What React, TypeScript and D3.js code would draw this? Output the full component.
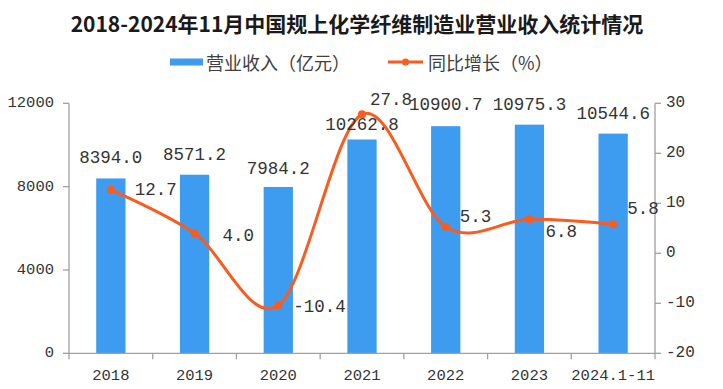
import React from "react";
import * as d3 from "d3";

const categories = ["2018", "2019", "2020", "2021", "2022", "2023", "2024.1-11"];
const revenue = [8394.0, 8571.2, 7984.2, 10262.8, 10900.7, 10975.3, 10544.6];
const growth = [12.7, 4.0, -10.4, 27.8, 5.3, 6.8, 5.8];
const leftTicks = [0, 4000, 8000, 12000];
const rightTicks = [-20, -10, 0, 10, 20, 30];
const titleText = "2018-2024年11月中国规上化学纤维制造业营业收入统计情况";
const legendBar = "营业收入（亿元）";
const legendLine = "同比增长（%）";

// label placement tweaks (styling, not data)
const growthLabelOffset: [number, number][] = [
  [24, 0.5],
  [28, 3],
  [15, 2],
  [8, -14],
  [14, -10],
  [16, 13],
  [14, -15],
];
const barLabelLift = [20, 20, 18, 14, 21, 20, 20];

const W = 723;
const H = 389;
const M = { left: 69, right: 655, top: 103.3, bottom: 353.3 };

const BAR = "#3E9CF0";
const LINE = "#F95C1E";
const AXIS = "#A0A0A0";
const TEXT = "#333333";
const NUM_FONT = "'Liberation Mono', 'DejaVu Sans Mono', monospace";
const CJK_FONT = "'Noto Sans CJK SC', 'Noto Sans', sans-serif";

export default function App() {
  const x = d3
    .scaleBand<string>()
    .domain(categories)
    .range([M.left, M.right])
    .paddingInner(0.65)
    .paddingOuter(0.325);
  const step = (M.right - M.left) / categories.length;
  const yL = d3.scaleLinear().domain([0, 12000]).range([M.bottom, M.top]);
  const yR = d3.scaleLinear().domain([-20, 30]).range([M.bottom, M.top]);
  const cx = (c: string) => (x(c) as number) + x.bandwidth() / 2;

  const pts: [number, number][] = categories.map((c, i) => [cx(c), yR(growth[i])]);
  const linePath = d3.line().curve(d3.curveCardinal.tension(0))(pts) || "";

  return (
    <svg
      width={W}
      height={H}
      style={{ position: "absolute", left: 0, top: 0, background: "#fff" }}
    >
      <rect x={0} y={0} width={W} height={H} fill="#fff" />
      {/* title */}
      <text
        x={357}
        y={23}
        textAnchor="middle"
        dominantBaseline="central"
        fontFamily={CJK_FONT}
        fontWeight="bold"
        fontSize={21}
        fill="#1a1a1a"
      >
        {titleText}
      </text>
      {/* legend */}
      <rect x={170} y={58.5} width={33} height={7} fill={BAR} />
      <text
        x={206}
        y={62}
        dominantBaseline="central"
        fontFamily={CJK_FONT}
        fontSize={18}
        fill="#404040"
      >
        {legendBar}
      </text>
      <line x1={388} x2={423} y1={62} y2={62} stroke={LINE} strokeWidth={3} />
      <circle cx={405.5} cy={62} r={3.5} fill={LINE} />
      <text
        x={428}
        y={62}
        dominantBaseline="central"
        fontFamily={CJK_FONT}
        fontSize={18}
        fill="#404040"
      >
        {legendLine}
      </text>

      {/* bars */}
      {categories.map((c, i) => (
        <rect
          key={c}
          x={x(c)}
          y={yL(revenue[i])}
          width={x.bandwidth()}
          height={yL(0) - yL(revenue[i])}
          fill={BAR}
        />
      ))}

      {/* axes */}
      <line x1={M.left} x2={M.left} y1={M.top} y2={M.bottom} stroke={AXIS} strokeWidth={1.3} />
      <line x1={M.right} x2={M.right} y1={M.top} y2={M.bottom} stroke={AXIS} strokeWidth={1.3} />
      <line x1={M.left} x2={M.right} y1={M.bottom} y2={M.bottom} stroke={AXIS} strokeWidth={1.3} />
      {leftTicks.map((t) => (
        <g key={"l" + t}>
          <line x1={M.left - 6} x2={M.left} y1={yL(t)} y2={yL(t)} stroke={AXIS} strokeWidth={1.3} />
          <text
            x={M.left - 15}
            y={yL(t)}
            textAnchor="end"
            dominantBaseline="central"
            fontFamily={NUM_FONT}
            fontSize={15.5}
            fill={TEXT}
          >
            {t}
          </text>
        </g>
      ))}
      {rightTicks.map((t) => (
        <g key={"r" + t}>
          <line x1={M.right} x2={M.right + 6} y1={yR(t)} y2={yR(t)} stroke={AXIS} strokeWidth={1.3} />
          <text
            x={M.right + 11}
            y={yR(t)}
            textAnchor="start"
            dominantBaseline="central"
            fontFamily={NUM_FONT}
            fontSize={16}
            fill={TEXT}
          >
            {t}
          </text>
        </g>
      ))}
      {d3.range(categories.length + 1).map((k) => (
        <line
          key={"xt" + k}
          x1={M.left + k * step}
          x2={M.left + k * step}
          y1={M.bottom}
          y2={M.bottom + 6}
          stroke={AXIS}
          strokeWidth={1.3}
        />
      ))}
      {categories.map((c) => (
        <text
          key={"xl" + c}
          x={cx(c)}
          y={376}
          textAnchor="middle"
          dominantBaseline="central"
          fontFamily={NUM_FONT}
          fontSize={15.5}
          fill={TEXT}
        >
          {c}
        </text>
      ))}

      {/* line */}
      <path d={linePath} fill="none" stroke={LINE} strokeWidth={3} />
      {pts.map((p, i) => (
        <circle key={"m" + i} cx={p[0]} cy={p[1]} r={4} fill={LINE} />
      ))}

      {/* bar labels */}
      {categories.map((c, i) => (
        <text
          key={"bl" + c}
          x={cx(c)}
          y={yL(revenue[i]) - barLabelLift[i]}
          textAnchor="middle"
          dominantBaseline="central"
          fontFamily={NUM_FONT}
          fontSize={17.5}
          fill={TEXT}
        >
          {revenue[i].toFixed(1)}
        </text>
      ))}
      {/* growth labels */}
      {categories.map((c, i) => (
        <text
          key={"gl" + c}
          x={pts[i][0] + growthLabelOffset[i][0]}
          y={pts[i][1] + growthLabelOffset[i][1]}
          textAnchor="start"
          dominantBaseline="central"
          fontFamily={NUM_FONT}
          fontSize={17.5}
          fill={TEXT}
        >
          {growth[i].toFixed(1)}
        </text>
      ))}
    </svg>
  );
}
